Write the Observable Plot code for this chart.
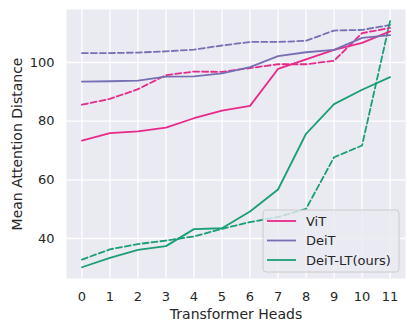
<!DOCTYPE html>
<html>
<head>
<meta charset="utf-8">
<script src="https://cdn.jsdelivr.net/npm/d3@7"></script>
<script src="https://cdn.jsdelivr.net/npm/@observablehq/plot@0.6"></script>
<style>
  html, body { margin: 0; padding: 0; background: #ffffff; }
  #chart { position: relative; width: 415px; height: 332px; }
</style>
</head>
<body>
<div id="chart"></div>
<script>
const heads = [0, 1, 2, 3, 4, 5, 6, 7, 8, 9, 10, 11];
const vitSolid     = [73.4, 75.9, 76.5, 77.8, 81.0, 83.6, 85.2, 97.8, 101.1, 104.3, 106.7, 110.6];
const vitDashed    = [85.6, 87.6, 90.9, 95.7, 96.9, 96.8, 98.1, 99.4, 99.4, 100.6, 110.0, 111.8];
const deitSolid    = [93.5, 93.6, 93.8, 95.2, 95.3, 96.3, 98.4, 102.2, 103.5, 104.3, 108.4, 109.3];
const deitDashed   = [103.2, 103.2, 103.4, 103.8, 104.4, 105.8, 107.0, 107.0, 107.4, 110.9, 111.1, 112.8];
const deitltSolid  = [30.2, 33.4, 36.1, 37.4, 43.2, 43.5, 49.2, 56.7, 75.7, 85.8, 90.7, 95.0];
const deitltDashed = [32.8, 36.3, 38.1, 39.3, 40.7, 43.3, 45.6, 47.3, 50.1, 67.7, 71.7, 114.1];

const seriesNames = ["ViT", "DeiT", "DeiT-LT(ours)"];
const seriesColors = ["#e7298a", "#7570b3", "#1b9e77"];
const yTicks = [40, 60, 80, 100];

const solidSets = [vitSolid, deitSolid, deitltSolid];
const dashedSets = [vitDashed, deitDashed, deitltDashed];

const solidRows = [];
const dashedRows = [];
seriesNames.forEach((name, i) => {
  heads.forEach((h, j) => {
    solidRows.push({head: h, value: solidSets[i][j], series: name});
    dashedRows.push({head: h, value: dashedSets[i][j], series: name});
  });
});

const font = "DejaVu Sans, sans-serif";
const textColor = "#262626";

const chart = Plot.plot({
  width: 415,
  height: 332,
  marginLeft: 66,
  marginRight: 10,
  marginTop: 9,
  marginBottom: 54,
  style: {fontFamily: font, fontSize: "13px", color: textColor, background: "#ffffff"},
  x: {domain: [-0.55, 11.55], ticks: heads, tickFormat: d => String(d)},
  y: {domain: [26.36, 118.07], ticks: yTicks},
  color: {domain: seriesNames, range: seriesColors},
  marks: [
    Plot.frame({fill: "#eaeaf2", stroke: null}),
    Plot.gridX(heads, {stroke: "#ffffff", strokeOpacity: 1, strokeWidth: 1.3}),
    Plot.gridY(yTicks, {stroke: "#ffffff", strokeOpacity: 1, strokeWidth: 1.3}),
    Plot.axisX(heads, {tickSize: 0, tickPadding: 13, fontSize: 13, label: "Transformer Heads", labelAnchor: "center", labelArrow: "none", labelOffset: 40}),
    Plot.axisY(yTicks, {tickSize: 0, tickPadding: 12, fontSize: 13, label: "Mean Attention Distance", labelAnchor: "center", labelArrow: "none", labelOffset: 54}),
    Plot.line(dashedRows, {x: "head", y: "value", z: "series", stroke: "series", strokeWidth: 1.8, strokeDasharray: "6,3"}),
    Plot.line(solidRows, {x: "head", y: "value", z: "series", stroke: "series", strokeWidth: 1.8})
  ]
});

document.getElementById("chart").appendChild(chart);

const svg = d3.select(chart);
svg.selectAll("text").style("font-family", font);
// axis titles slightly larger than tick labels
svg.selectAll("g[aria-label='x-axis label'] text, g[aria-label='y-axis label'] text")
  .style("font-size", "14px");

// Legend inside the plot area (lower right)
const lg = svg.append("g")
  .attr("font-family", font).attr("font-size", 13)
  .attr("fill", textColor).attr("text-anchor", "start");
lg.append("rect")
  .attr("x", 263).attr("y", 210).attr("width", 136).attr("height", 62)
  .attr("rx", 3).attr("ry", 3)
  .attr("fill", "#eaeaf2").attr("fill-opacity", 0.8)
  .attr("stroke", "#cccccc").attr("stroke-width", 1);
const rowY = [221, 240.5, 260];
seriesNames.forEach((name, i) => {
  lg.append("line")
    .attr("x1", 267).attr("x2", 296).attr("y1", rowY[i]).attr("y2", rowY[i])
    .attr("stroke", seriesColors[i]).attr("stroke-width", 1.8);
  lg.append("text")
    .attr("x", 306).attr("y", rowY[i]).attr("dy", "0.36em")
    .attr("text-anchor", "start")
    .text(name);
});
</script>
</body>
</html>
